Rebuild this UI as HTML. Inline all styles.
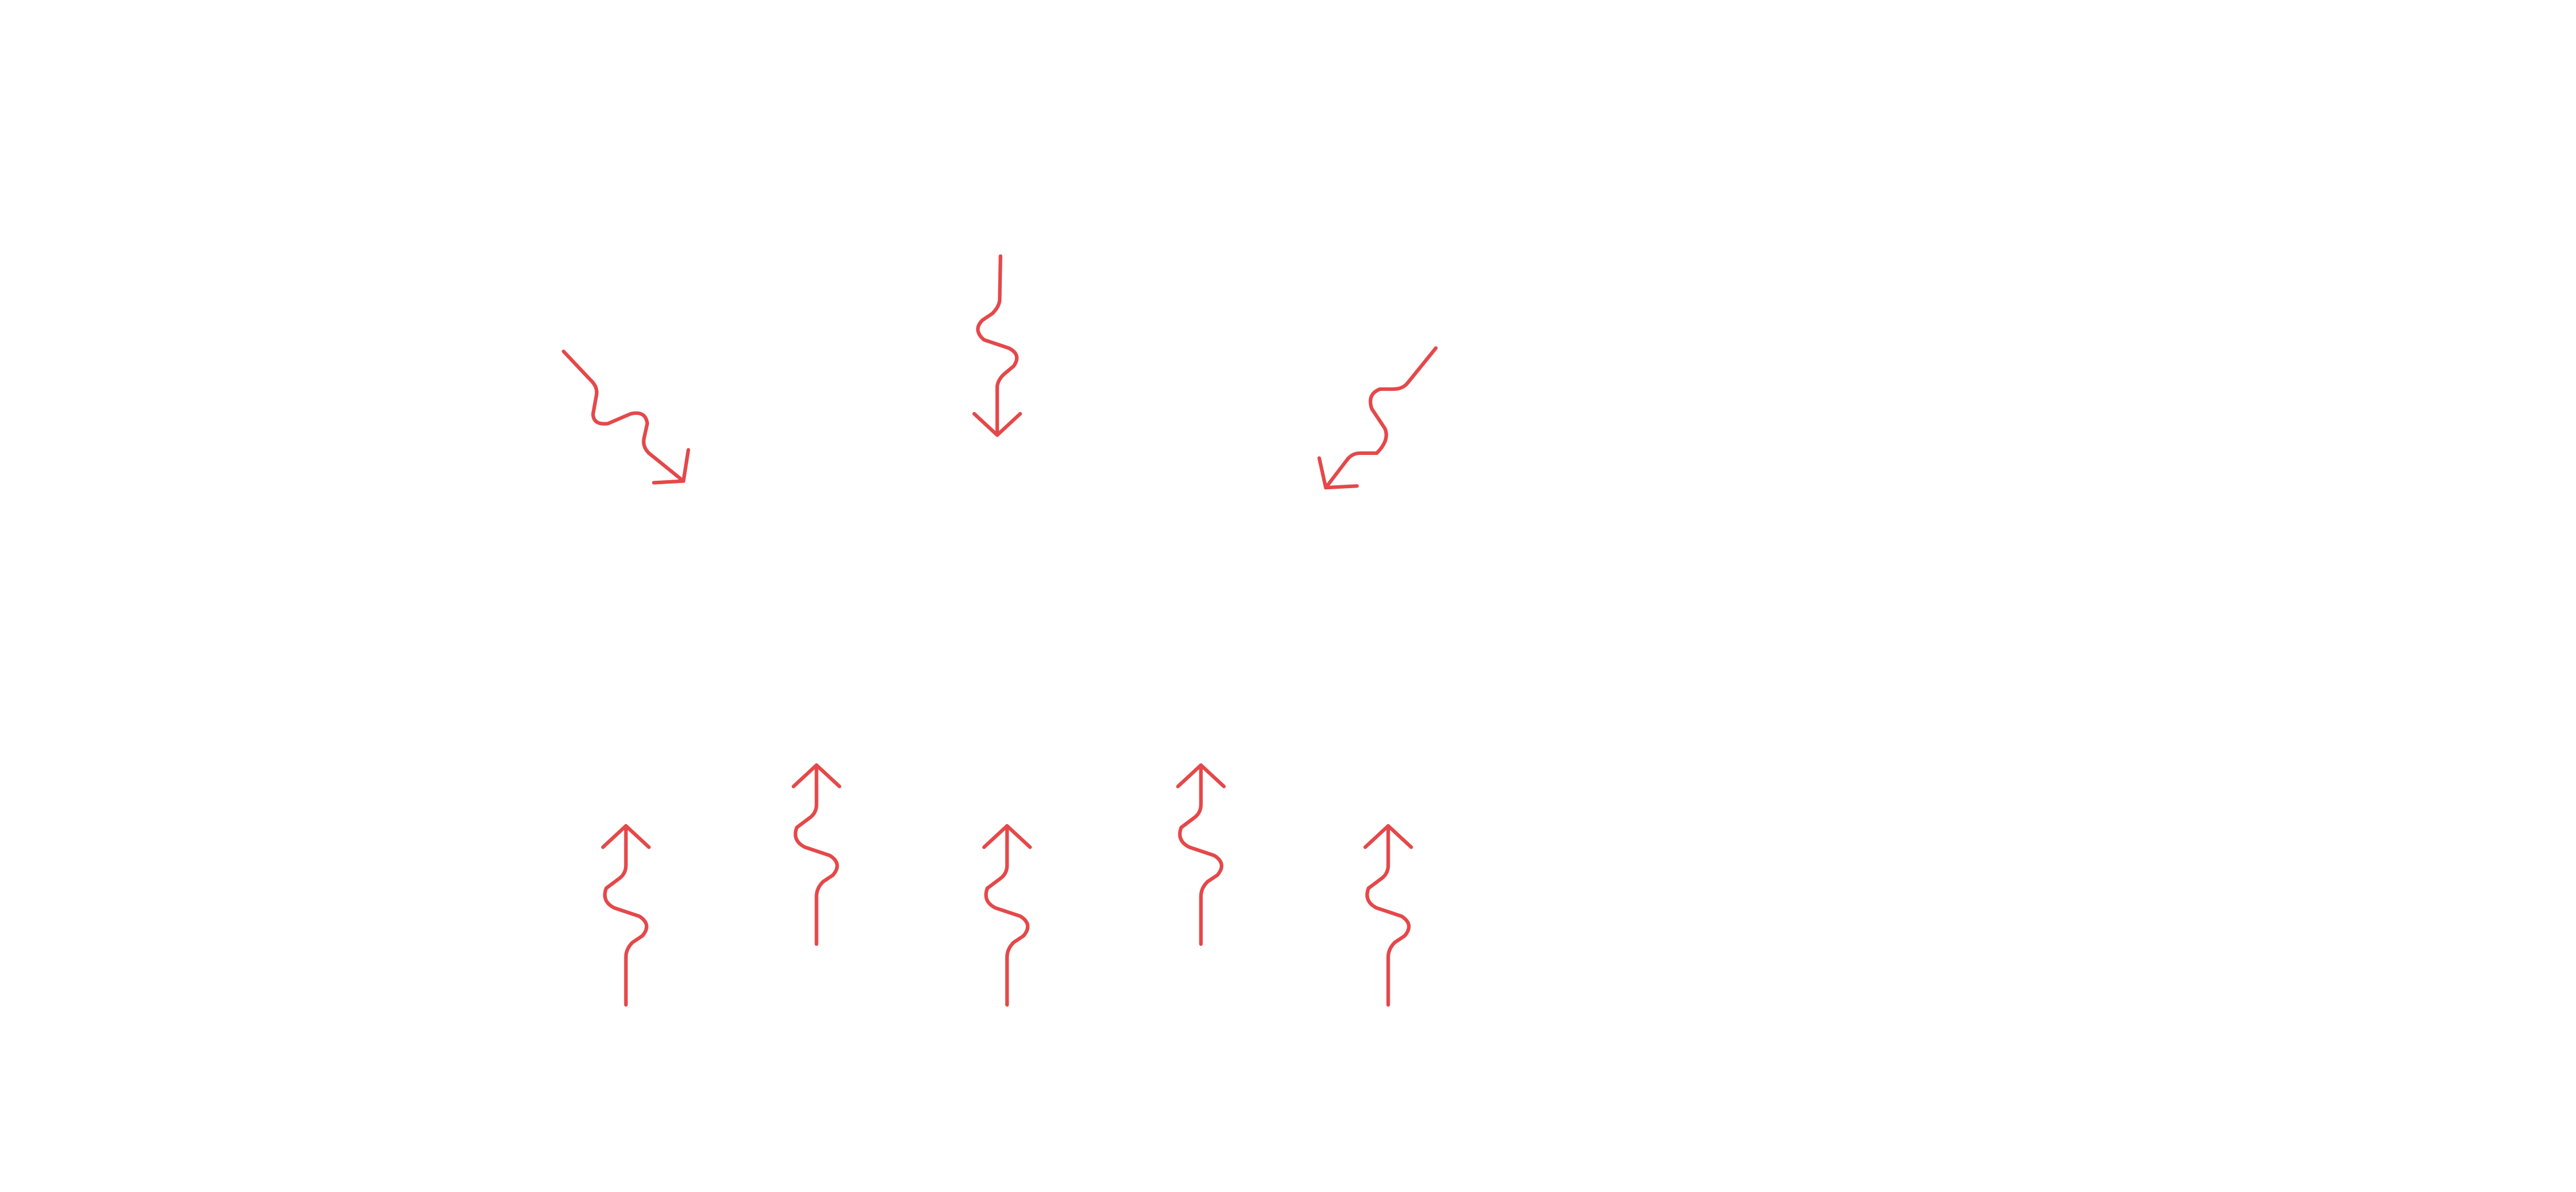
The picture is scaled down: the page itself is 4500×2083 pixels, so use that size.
<!DOCTYPE html>
<html>
<head>
<meta charset="utf-8">
<style>
html,body{margin:0;padding:0;background:#fff;}
svg{display:block;}
</style>
</head>
<body>
<svg width="4500" height="2083" viewBox="0 0 1568 726" preserveAspectRatio="none" xmlns="http://www.w3.org/2000/svg">
<g fill="none" stroke="#e5484a" stroke-width="2.2" stroke-linecap="round" stroke-linejoin="round">
<path d="M609,156 L608.5,183 Q608,187 604,191 L598,195 Q592,201 599,207 L614,212 Q622,216 617,223 L611,228 Q607,232 607,236 L607,265"/>
<path d="M593,252 L607,265 L621,252"/>
<path d="M343,214 L360,232 Q364,236 363,241 L361,252 Q361,259 370,258 L384,252 Q393,250 394,258 L392,267 Q391,272 395,276 L416,293"/>
<path d="M398,294 L416,293 L419,274"/>
<path d="M874,212 L857,233 Q854,237 848,237 L840,237 Q832,240 835,249 L843,261 Q846,268 838,276 L828,276 Q823,276 820,280 L807,297"/>
<path d="M803,279 L807,297 L826,296"/>
<path d="M381,612 L381,583 Q381,578 385,574 L391,570 Q397,563 389,558 L374,553 Q366,549 369,541 L377,535 Q381,532 381,527 L381,503"/>
<path d="M367,516 L381,503 L395,516"/>
<path d="M497,575 L497,546 Q497,541 501,537 L507,533 Q513,526 505,521 L490,516 Q482,512 485,504 L493,498 Q497,495 497,490 L497,466"/>
<path d="M483,479 L497,466 L511,479"/>
<path d="M613,612 L613,583 Q613,578 617,574 L623,570 Q629,563 621,558 L606,553 Q598,549 601,541 L609,535 Q613,532 613,527 L613,503"/>
<path d="M599,516 L613,503 L627,516"/>
<path d="M731,575 L731,546 Q731,541 735,537 L741,533 Q747,526 739,521 L724,516 Q716,512 719,504 L727,498 Q731,495 731,490 L731,466"/>
<path d="M717,479 L731,466 L745,479"/>
<path d="M845,612 L845,583 Q845,578 849,574 L855,570 Q861,563 853,558 L838,553 Q830,549 833,541 L841,535 Q845,532 845,527 L845,503"/>
<path d="M831,516 L845,503 L859,516"/>
</g>
</svg>
</body>
</html>
